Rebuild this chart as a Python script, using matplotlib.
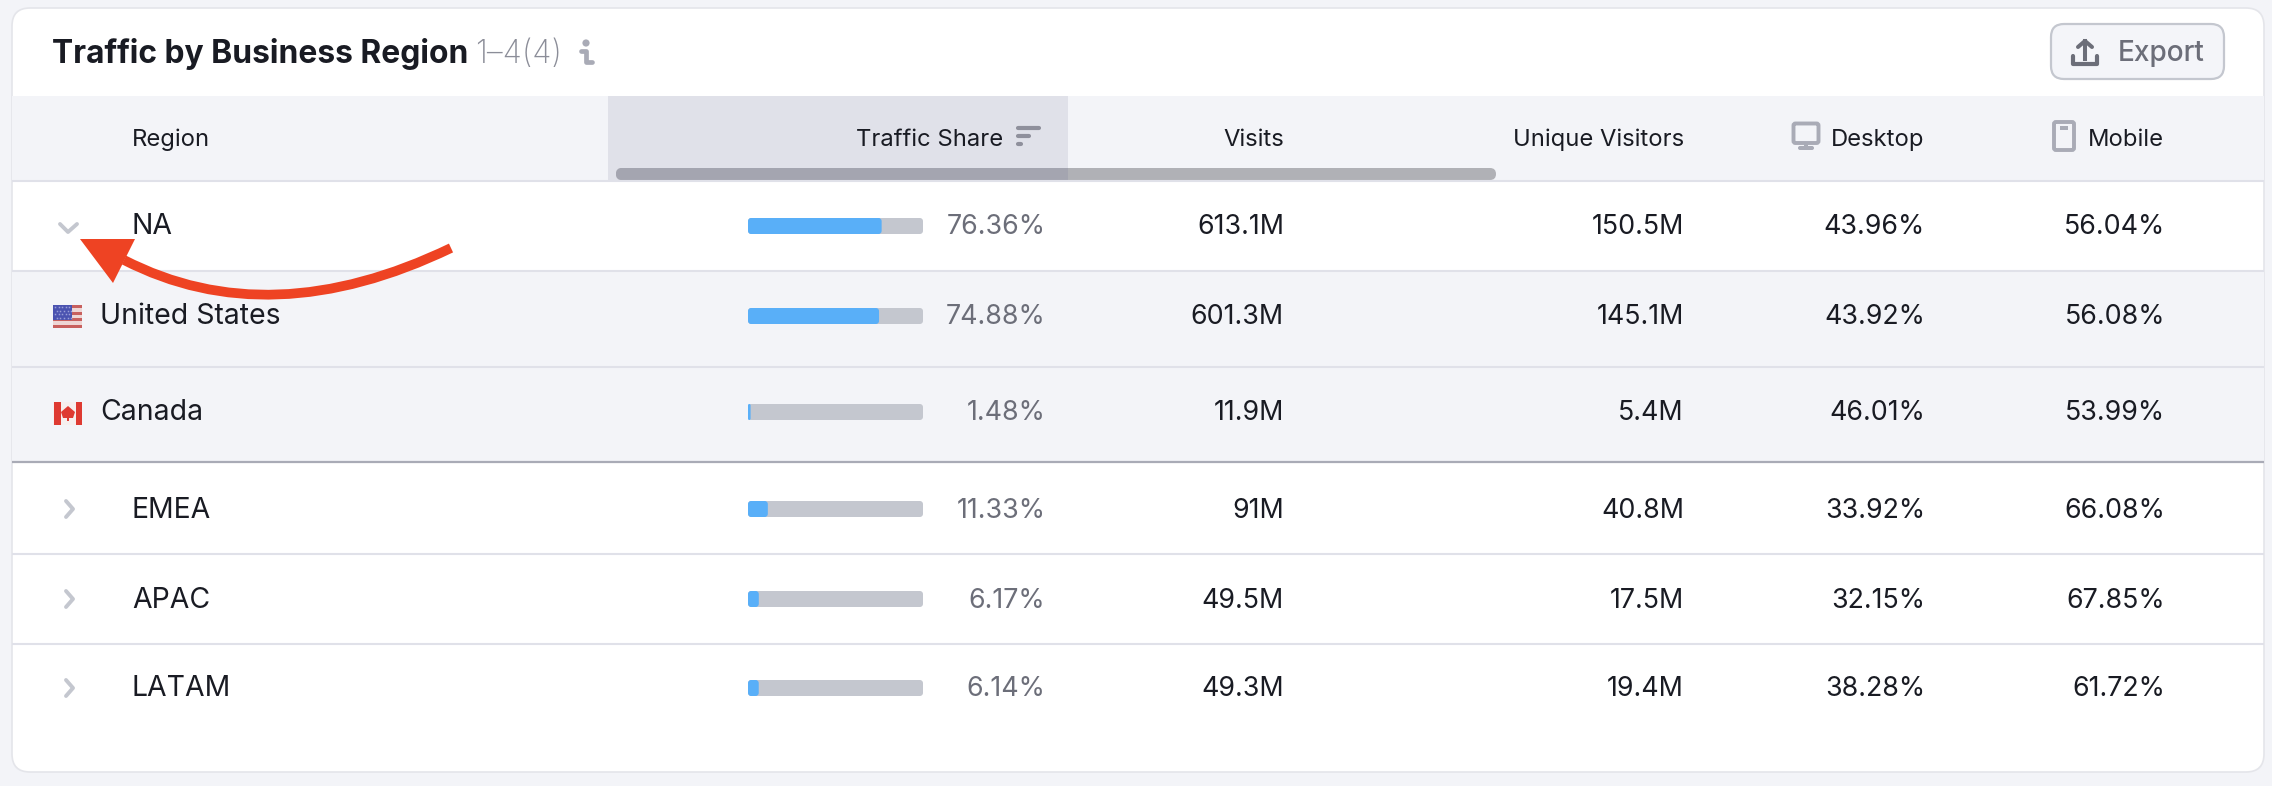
import matplotlib
matplotlib.use('Agg')
import matplotlib.pyplot as plt
from matplotlib.patches import FancyBboxPatch, Rectangle, Polygon, PathPatch, Circle
from matplotlib.path import Path

plt.rcParams['font.family'] = ['Inter', 'DejaVu Sans']

W, H = 2272, 786

regions = ['NA', 'United States', 'Canada', 'EMEA', 'APAC', 'LATAM']
traffic_share = [76.36, 74.88, 1.48, 11.33, 6.17, 6.14]
visits = ['613.1M', '601.3M', '11.9M', '91M', '49.5M', '49.3M']
unique_visitors = ['150.5M', '145.1M', '5.4M', '40.8M', '17.5M', '19.4M']
desktop = [43.96, 43.92, 46.01, 33.92, 32.15, 38.28]
mobile = [56.04, 56.08, 53.99, 66.08, 67.85, 61.72]

row_y = [226, 316, 412, 509, 599, 688]

TEXT = '#191b23'
GREY = '#6c6e79'
LINE = '#e0e1e9'
BG = '#f3f4f8'
BLUE = '#59aff8'
TRACK = '#c4c7cf'
ICON = '#a9abb6'

NAME_FS = 28.4 * 0.72
VALUE_FS = 26.8 * 0.72
HEAD_FS = 23.8 * 0.72


def rrect(ax, x0, y0, x1, y1, r, **kw):
    p = FancyBboxPatch((x0, y0), x1 - x0, y1 - y0,
                       boxstyle='round,pad=0,rounding_size=%f' % r, **kw)
    ax.add_patch(p)
    return p


fig = plt.figure(figsize=(W / 100, H / 100), dpi=100, facecolor=BG)
ax = fig.add_axes([0, 0, 1, 1])
ax.set_xlim(0, W)
ax.set_ylim(H, 0)
ax.axis('off')

# card
rrect(ax, 12, 8, 2264, 772, 18, fc='white', ec='#e4e5ea', lw=1.2)

# row backgrounds
ax.add_patch(Rectangle((12, 96), 2252, 85, fc=BG, lw=0))
ax.add_patch(Rectangle((608, 96), 460, 85, fc=LINE, lw=0))
ax.add_patch(Rectangle((12, 271), 2252, 191, fc=BG, lw=0))

for y in [181, 271, 367, 554, 644]:
    ax.plot([12, 2264], [y, y], color=LINE, lw=1.5, solid_capstyle='butt')
ax.plot([12, 2264], [462, 462], color=ICON, lw=1.6, solid_capstyle='butt')

# scrollbar
rrect(ax, 616, 168, 1496, 180, 6, fc='#b0b1b6', lw=0)
ax.add_patch(Rectangle((622, 168), 446, 12, fc='#a4a5b0', lw=0))
rrect(ax, 616, 168, 640, 180, 6, fc='#a4a5b0', lw=0)

# title
ax.text(52, 63, 'Traffic by Business Region', fontsize=31.8 * 0.72, fontweight='bold',
        color=TEXT, va='baseline', ha='left')
ax.text(475, 63, '1–4(4)', fontsize=31.5 * 0.72, fontweight=200, color='#8b8d98',
        va='baseline', ha='left')

# info icon
ax.add_patch(Circle((586, 43), 3.6, fc=ICON, lw=0))
ax.plot([581, 586, 586, 592], [51, 51, 62, 62], color=ICON, lw=3.4,
        solid_capstyle='round', solid_joinstyle='round')

# export button
rrect(ax, 2051, 24, 2224, 79, 13, fc='#f4f5f9', ec=TRACK, lw=1.6)
ax.text(2118, 61, 'Export', fontsize=28 * 0.72, color=GREY, fontweight='medium',
        va='baseline', ha='left')
ax.plot([2073, 2073, 2097, 2097], [56, 64, 64, 56], color=GREY, lw=3,
        solid_joinstyle='round', solid_capstyle='round')
ax.plot([2085, 2085], [59, 41], color=GREY, lw=2.9)
ax.plot([2078, 2085, 2092], [47, 41, 47], color=GREY, lw=2.9, solid_capstyle='round')

# header labels
ax.text(132, 146, 'Region', fontsize=HEAD_FS, color=TEXT, va='baseline', ha='left')
ax.text(1003, 146, 'Traffic Share', fontsize=HEAD_FS, color=TEXT, va='baseline', ha='right')
ax.text(1284, 146, 'Visits', fontsize=HEAD_FS, color=TEXT, va='baseline', ha='right')
ax.text(1684, 146, 'Unique Visitors', fontsize=HEAD_FS, color=TEXT, va='baseline', ha='right')
ax.text(1924, 146, 'Desktop', fontsize=HEAD_FS, color=TEXT, va='baseline', ha='right')
ax.text(2164, 146, 'Mobile', fontsize=HEAD_FS, color=TEXT, va='baseline', ha='right')

# sort icon
for y, x1 in [(128, 1039), (136, 1029), (144, 1021)]:
    ax.plot([1018, x1], [y, y], color='#8f909c', lw=3, solid_capstyle='round')

# desktop icon
rrect(ax, 1793.5, 123.5, 1818.5, 143, 2, fc='none', ec=ICON, lw=2.8)
ax.add_patch(Rectangle((1804, 143), 4, 4, fc=ICON, lw=0))
rrect(ax, 1798, 146, 1814, 150, 2, fc=ICON, lw=0)
# mobile icon
rrect(ax, 2054, 122, 2074, 150, 2, fc='none', ec=ICON, lw=2.8)
ax.add_patch(Rectangle((2060, 126), 8, 4, fc=ICON, lw=0))

# chevrons
for i in [0, 3, 4, 5]:
    y = row_y[i]
    if i == 0:
        xs, ys = [60, 68, 77], [y - 2, y + 6, y - 2]
    else:
        xs, ys = [66, 73, 66], [y - 8, y, y + 8]
    ax.plot(xs, ys, color=TRACK, lw=2.8, solid_capstyle='round', solid_joinstyle='round')

# region names
for i, name in enumerate(regions):
    x = 100 if i in (1, 2) else 132
    ax.text(x, row_y[i] + 8.5, name, fontsize=NAME_FS, color=TEXT, va='baseline', ha='left')

# numeric columns
for i in range(len(regions)):
    y = row_y[i] + 8.5
    ax.text(1045.5, y, '%.2f%%' % traffic_share[i], fontsize=VALUE_FS, color=GREY, va='baseline', ha='right')
    ax.text(1284, y, visits[i], fontsize=VALUE_FS, color=TEXT, va='baseline', ha='right')
    ax.text(1684, y, unique_visitors[i], fontsize=VALUE_FS, color=TEXT, va='baseline', ha='right')
    ax.text(1925, y, '%.2f%%' % desktop[i], fontsize=VALUE_FS, color=TEXT, va='baseline', ha='right')
    ax.text(2165, y, '%.2f%%' % mobile[i], fontsize=VALUE_FS, color=TEXT, va='baseline', ha='right')

# flags
fx0, fx1 = 53, 82
y = row_y[1]
for k in range(7):
    c = '#c8605e' if k % 2 == 0 else '#eed6d5'
    ax.add_patch(Rectangle((fx0, y - 11 + k * 23 / 7), fx1 - fx0, 23 / 7, fc=c, lw=0))
ax.add_patch(Rectangle((fx0, y - 11), 19, 15, fc='#4a52b0', lw=0))
for row in range(4):
    for col in range(5):
        ax.plot(fx0 + 2 + col * 3.6 + (row % 2) * 1.8, y - 9 + row * 3.6, 's', ms=1.1,
                color='#9a9fd8', mew=0)
y = row_y[2]
ax.add_patch(Rectangle((fx0, y - 10), fx1 - fx0, 23, fc='#f6efef', lw=0))
ax.add_patch(Rectangle((fx0 + 1, y - 10), 7, 23, fc='#de3a32', lw=0))
ax.add_patch(Rectangle((fx1 - 6, y - 10), 6, 23, fc='#de3a32', lw=0))
ax.add_patch(Polygon([(fx0 + 15, y - 6), (fx0 + 22, y), (fx0 + 20, y + 6), (fx0 + 16, y + 6),
                      (fx0 + 16, y + 9), (fx0 + 14, y + 9), (fx0 + 14, y + 6), (fx0 + 10, y + 6),
                      (fx0 + 8, y)], fc='#de3a32', lw=0))

# traffic share bars, on their own 0-100 axis
bar_ax = fig.add_axes([748 / W, 0, 175 / W, 1])
bar_ax.set_xlim(0, 100)
bar_ax.set_ylim(H, 0)
bar_ax.axis('off')
bar_ax.patch.set_alpha(0)
aspect = 1.75
for i, share in enumerate(traffic_share):
    y = row_y[i]
    for val, col in [(100, TRACK), (share, BLUE)]:
        r = min(1.8, val / 2)
        p = FancyBboxPatch((0, y - 8), val, 16, boxstyle='round,pad=0,rounding_size=%f' % r,
                           mutation_aspect=aspect, fc=col, lw=0, clip_on=False)
        bar_ax.add_patch(p)

# red arrow
arrow = Path([(451, 248), (270, 335), (124, 260)], [Path.MOVETO, Path.CURVE3, Path.CURVE3])
top_ax = fig.add_axes([0, 0, 1, 1])
top_ax.set_xlim(0, W)
top_ax.set_ylim(H, 0)
top_ax.axis('off')
top_ax.patch.set_alpha(0)
top_ax.add_patch(PathPatch(arrow, fc='none', ec='#ee4323', lw=7, capstyle='butt'))
top_ax.add_patch(Polygon([(80, 239), (135, 239), (113, 283)], fc='#ee4323', lw=0))

fig.savefig('out.png', dpi=100, facecolor=BG)
